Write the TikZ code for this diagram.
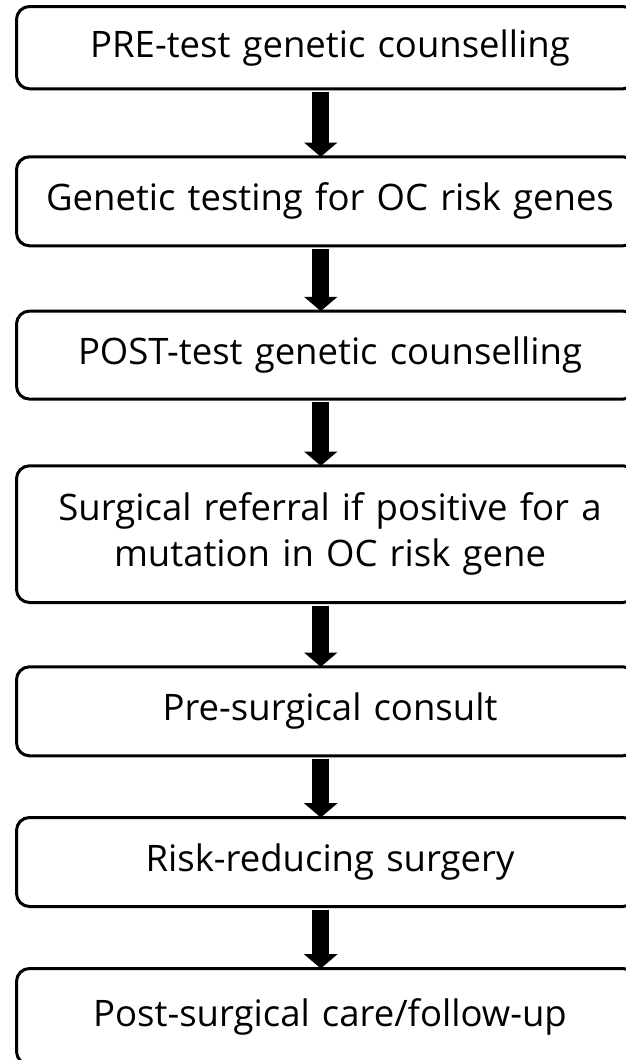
\documentclass[tikz,border=0pt]{standalone}
\usepackage{fontspec}
\setmainfont{Open Sans}[Ligatures=NoCommon]
\usetikzlibrary{
  arrows.meta,
  positioning
}

\begin{document}
\begin{tikzpicture}[
  x=1pt, y=1pt,
  stage/.style={
    rectangle,
    draw,
    line width=3pt,
    rounded corners=13pt,
    outer sep=0pt,
    inner sep=0pt,
    minimum width=619.5pt,
    minimum height=89pt,
    text width=617pt,
    align=center,
    font=\fontsize{36.5}{46}\selectfont,
    execute at begin node=\hspace*{7.5pt}
  },
  flow/.style={
    line width=16.7pt,
    -{Triangle[width=32.7pt,length=14.3pt]},
    shorten <=3pt
  }
]

\useasboundingbox (0,0) rectangle (626,-1060);
\clip (0,0) rectangle (626,-1060);

\node [stage, minimum height=82.3pt, anchor=north] (pre-test-counselling) at (326.25,-6.5) {PRE-test genetic counselling};
\node [stage, below=68pt of pre-test-counselling] (genetic-testing) {Genetic testing for OC risk genes};
\node [stage, minimum height=88pt, below=65.3pt of genetic-testing] (post-test-counselling) {POST-test genetic counselling};
\node [stage, minimum height=136.7pt, below=66.7pt of post-test-counselling] (surgical-referral) {Surgical referral if positive for a\\\hspace*{7.5pt}mutation in OC risk gene};
\node [stage, below=64.3pt of surgical-referral] (pre-surgical-consult) {Pre-surgical consult};
\node [stage, below=61.7pt of pre-surgical-consult] (risk-reducing-surgery) {Risk-reducing surgery};
\node [stage, minimum height=96pt, below=62pt of risk-reducing-surgery] (post-surgical-care) {Post-surgical care/follow-up};

\draw [flow] ([xshift=-5.5pt]pre-test-counselling.south) -- ([xshift=-5.5pt]genetic-testing.north);
\draw [flow] ([xshift=-5.5pt]genetic-testing.south) -- ([xshift=-5.5pt]post-test-counselling.north);
\draw [flow] ([xshift=-5.5pt]post-test-counselling.south) -- ([xshift=-5.5pt]surgical-referral.north);
\draw [flow] ([xshift=-5.5pt]surgical-referral.south) -- ([xshift=-5.5pt]pre-surgical-consult.north);
\draw [flow] ([xshift=-5.5pt]pre-surgical-consult.south) -- ([xshift=-5.5pt]risk-reducing-surgery.north);
\draw [flow] ([xshift=-5.5pt]risk-reducing-surgery.south) -- ([xshift=-5.5pt]post-surgical-care.north);

\end{tikzpicture}
\end{document}
